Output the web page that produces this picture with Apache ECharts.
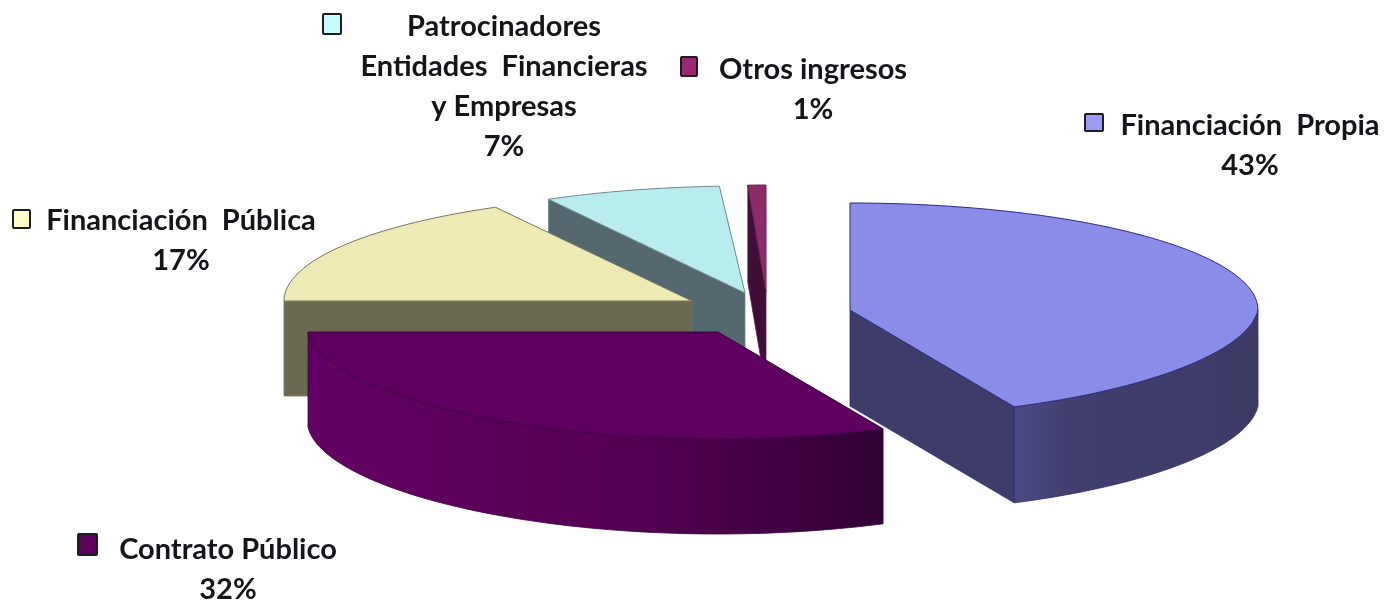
<!DOCTYPE html>
<html>
<head>
<meta charset="utf-8">
<style>
  html, body { margin: 0; background: #fff; }
  #chart { width: 1395px; height: 602px; }
</style>
</head>
<body>
<div id="chart"></div>
<script src="https://cdn.jsdelivr.net/npm/echarts@6/dist/echarts.min.js"></script>
<script>
const categories = [
  'Financiación  Propia',
  'Contrato Público',
  'Financiación  Pública',
  'Patrocinadores\nEntidades  Financieras\ny Empresas',
  'Otros ingresos'
]
const shares = [43, 32, 17, 7, 1]

// each slice is pulled out by hand, like in the original
const layout = [
  { cx: 850, cy: 310, rx: 408, depth: 96, z: 5, cut: 'end', wall: true },
  { cx: 718, cy: 332, rx: 410, depth: 95, z: 4, wall: true },
  { cx: 692, cy: 301, rx: 408, depth: 95, z: 3, cut: 'start' },
  { cx: 745, cy: 293, rx: 408, depth: 95, z: 2, cut: 'start' },
  { cx: 766, cy: 292, rx: 290, depth: 97, z: 1, cut: 'start' }
]
const faces = [
  { top: '#898ce9', line: '#2c2c78', cutFill: '#3e3c68', wall: [[0, '#4c4c84'], [0.25, '#403e6c'], [1, '#3d3b66']] },
  { top: '#5f005f', line: '#3c0044', wall: [[0, '#640064'], [0.55, '#560052'], [0.85, '#3e0040'], [1, '#300034']] },
  { top: '#eeeab6', line: '#77775c', cutFill: '#6b6a50' },
  { top: '#b8ecee', line: '#6f8a8c', cutFill: '#53696f' },
  { top: '#8c2c68', line: '#6d2050', cutFill: '#3e0e38' }
]
const labels = [
  { x: 1250, y: 146, box: [1085, 114, 18, 17], fill: '#9a9cf6' },
  { x: 228, y: 570, box: [78, 534, 19, 21], fill: '#5f005f' },
  { x: 181, y: 241, box: [13, 210, 17, 18], fill: '#ffffc8' },
  { x: 504, y: 87, box: [323, 14, 18, 20], fill: '#c8fbfb' },
  { x: 813, y: 90, box: [681, 57, 16, 19], fill: '#9a2a70' }
]

const RY = 107
const toRad = Math.PI / 180

// point on the tilted rim, angle clockwise from the top
function rim(s, deg, drop) {
  const a = deg * toRad
  // the front of the rim is a bit narrower in the source
  const taper = 1 + 0.06 * Math.min(0, Math.cos(a))
  return [s.cx + s.rx * Math.sin(a) * taper, s.cy - RY * Math.cos(a) + (drop || 0)]
}

function arc(s, from, to, drop) {
  const pts = []
  const steps = Math.max(4, Math.ceil(Math.abs(to - from) / 2))
  for (let i = 0; i <= steps; i++) {
    pts.push(rim(s, from + (to - from) * i / steps, drop))
  }
  return pts
}

function renderSlice(params, api) {
  const i = params.dataIndex
  const value = api.value(0)
  const before = api.value(1)
  const total = shares.reduce((a, b) => a + b, 0)
  const from = before / total * 360
  const to = (before + value) / total * 360
  const s = layout[i]
  const f = faces[i]
  const children = []

  if (s.cut) {
    const edge = rim(s, s.cut === 'end' ? to : from)
    children.push({
      type: 'polygon',
      z2: s.z,
      shape: { points: [[s.cx, s.cy], edge, [edge[0], edge[1] + s.depth], [s.cx, s.cy + s.depth]] },
      style: { fill: f.cutFill, stroke: f.line, lineWidth: 0.8 }
    })
  }
  if (s.wall) {
    // only the part of the rim facing the viewer has a wall
    const start = Math.max(from, 90)
    const wallTop = arc(s, start, to)
    const wallBottom = arc(s, to, start, s.depth)
    children.push({
      type: 'polygon',
      z2: s.z,
      shape: { points: wallTop.concat(wallBottom) },
      style: {
        fill: new echarts.graphic.LinearGradient(0, 0, 1, 0,
          f.wall.map(c => ({ offset: c[0], color: c[1] }))),
        stroke: f.line,
        lineWidth: 0.8
      }
    })
  }
  children.push({
    type: 'polygon',
    z2: s.z,
    shape: { points: [[s.cx, s.cy]].concat(arc(s, from, to)) },
    style: { fill: f.top, stroke: f.line, lineWidth: 1 }
  })

  const l = labels[i]
  children.push({
    type: 'rect',
    z2: 10,
    shape: { x: l.box[0], y: l.box[1], width: l.box[2], height: l.box[3], r: 1 },
    style: { fill: l.fill, stroke: '#1c1c24', lineWidth: 2 }
  })
  children.push({
    type: 'text',
    z2: 10,
    style: {
      text: categories[i] + '\n' + value + '%',
      x: l.x,
      y: l.y,
      align: 'center',
      verticalAlign: 'middle',
      lineHeight: 40,
      font: 'bold 29px Lato',
      fill: '#14141a'
    }
  })
  return { type: 'group', children: children }
}

let running = 0
const rows = shares.map(v => {
  const row = [v, running]
  running += v
  return row
})

const chart = echarts.init(document.getElementById('chart'))
chart.setOption({
  backgroundColor: '#fff',
  animation: false,
  series: [{
    type: 'custom',
    coordinateSystem: 'none',
    renderItem: renderSlice,
    data: rows
  }]
})
</script>
</body>
</html>
